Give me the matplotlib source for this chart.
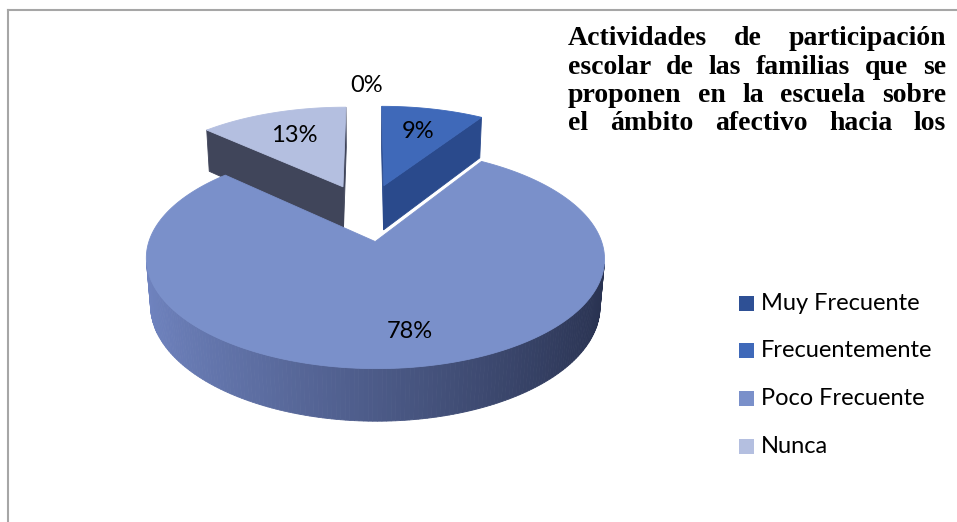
import numpy as np
import matplotlib.pyplot as plt
from matplotlib.patches import Polygon, Rectangle
import matplotlib.colors as mcolors

# datos del grafico
labels = ['Muy Frecuente', 'Frecuentemente', 'Poco Frecuente', 'Nunca']
values = [0, 9, 78, 13]
pct_labels = ['0%', '9%', '78%', '13%']
top_colors = ['#2E5095', '#3F69B9', '#7A90CA', '#B4BFE0']
side_light = ['#264581', '#33589F', '#7084C0', '#9AA4C2']
side_dark = ['#1C3060', '#2A4A8C', '#28314F', '#40455A']
title_lines = ['Actividades de participación',
               'escolar de las familias que se',
               'proponen en la escuela sobre',
               'el ámbito afectivo hacia los']

W, H = 957, 522
fig = plt.figure(figsize=(W/100, H/100), dpi=100)
ax = fig.add_axes([0, 0, 1, 1])
ax.set_xlim(0, W)
ax.set_ylim(H, 0)
ax.axis('off')

# proyeccion en perspectiva del pastel 3d
ox, oy = 367, 212
F, D = 1300, 6.0
elev = np.radians(27)
s, c = np.sin(elev), np.cos(elev)
explode = 0.29
h = 0.24
cam = np.array([0, -D*c, D*s])

def proj(X, Y, Z):
    X, Y, Z = np.asarray(X, float), np.asarray(Y, float), np.asarray(Z, float)
    d = D + Y*c - Z*s
    return ox + F*X/d, oy - F*(Y*s + Z*c)/d

def mix(c1, c2, t):
    a = np.array(mcolors.to_rgb(c1))
    b = np.array(mcolors.to_rgb(c2))
    return tuple(a*(1-t) + b*t)

def poly(X, Y, Z, col):
    px, py = proj(X, Y, Z)
    ax.add_patch(Polygon(np.column_stack([px, py]), closed=True,
                         facecolor=col, edgecolor=col, linewidth=0.6))

tot = sum(values)
ends = np.cumsum(values) / tot * 2*np.pi
starts = ends - np.array(values) / tot * 2*np.pi

slices = []
for i in range(len(values)):
    mid = (starts[i] + ends[i]) / 2
    dx, dy = explode*np.sin(mid), explode*np.cos(mid)
    slices.append((i, starts[i], ends[i], mid, dx, dy))

# de atras hacia adelante
order = sorted(slices, key=lambda t: -(t[5]))
for i, t1, t2, mid, dx, dy in order:
    if values[i] == 0:
        continue
    P = np.array([dx, dy, 0])
    # caras radiales
    for th, n in [(t1, np.array([-np.cos(t1), np.sin(t1), 0])),
                  (t2, np.array([np.cos(t2), -np.sin(t2), 0]))]:
        if np.dot(cam - P, n) > 0:
            X = [dx, dx + np.sin(th), dx + np.sin(th), dx]
            Y = [dy, dy + np.cos(th), dy + np.cos(th), dy]
            Z = [0, 0, -h, -h]
            poly(X, Y, Z, side_dark[i])
    # cara exterior
    th = np.linspace(t1, t2, max(int(np.degrees(t2 - t1)), 2) + 1)
    for a, b in zip(th[:-1], th[1:]):
        m = (a + b) / 2
        n = np.array([np.sin(m), np.cos(m), 0])
        q = np.array([dx + np.sin(m), dy + np.cos(m), 0])
        if np.dot(cam - q, n) <= 0:
            continue
        X = [dx + np.sin(a), dx + np.sin(b), dx + np.sin(b), dx + np.sin(a)]
        Y = [dy + np.cos(a), dy + np.cos(b), dy + np.cos(b), dy + np.cos(a)]
        Z = [0, 0, -h, -h]
        poly(X, Y, Z, mix(side_light[i], side_dark[i], (1 + np.sin(m)) / 2))
    # cara superior
    th = np.linspace(t1, t2, 200)
    X = np.concatenate([[dx], dx + np.sin(th)])
    Y = np.concatenate([[dy], dy + np.cos(th)])
    poly(X, Y, np.zeros_like(X), top_colors[i])

# etiquetas de porcentaje (radio y giro en grados)
label_r = [1.3, 0.68, 0.75, 0.67]
label_turn = [0, 0, -2.8, 0]
for i, t1, t2, mid, dx, dy in slices:
    r = label_r[i]
    a = mid + np.radians(label_turn[i])
    lx, ly = proj(dx + r*np.sin(a), dy + r*np.cos(a), 0)
    ax.text(lx, ly, pct_labels[i], ha='center', va='center',
            fontsize=17, family='Lato', color='black')

# leyenda
for i, lab in enumerate(labels):
    y = 303 + i*47.7
    ax.add_patch(Rectangle((739, y - 7.5), 15, 15, facecolor=top_colors[i],
                           edgecolor='none'))
    ax.text(761, y, lab, va='center', ha='left', fontsize=17, family='Lato')

# titulo justificado
fig.canvas.draw()
rend = fig.canvas.get_renderer()
x0, x1 = 568, 946
for k, line in enumerate(title_lines):
    y = 45 + k*28.5
    words = line.split()
    objs = [ax.text(0, y, w, va='baseline', ha='left', fontsize=20,
                    family='Liberation Serif', fontweight='bold') for w in words]
    widths = [o.get_window_extent(rend).width for o in objs]
    gap = (x1 - x0 - sum(widths)) / (len(words) - 1)
    x = x0
    for o, w in zip(objs, widths):
        o.set_x(x)
        x += w + gap

# borde del area
ax.plot([8, 8], [H, 10], color='#A6A6A6', lw=1.5)
ax.plot([8, W], [10, 10], color='#A6A6A6', lw=1.5)

fig.savefig('out.png', dpi=100)
